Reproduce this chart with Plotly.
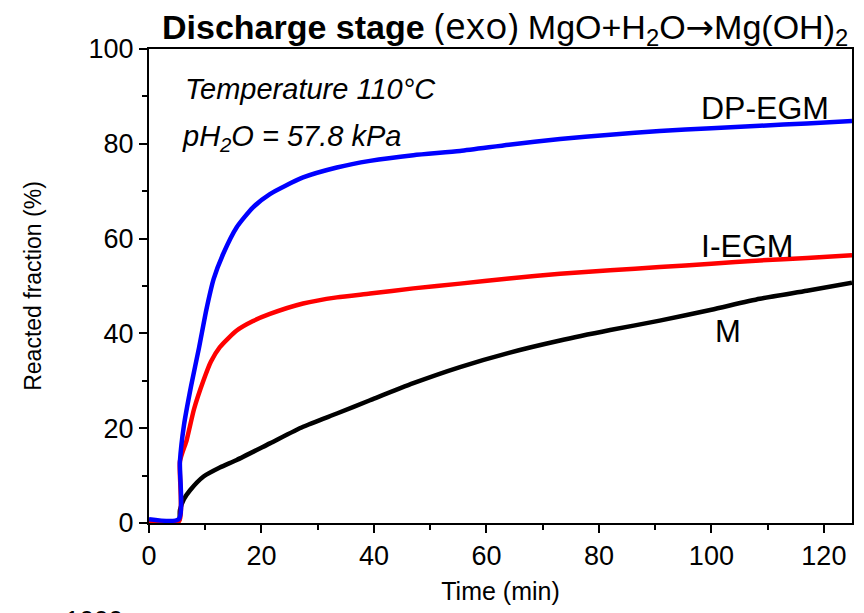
import plotly.graph_objects as go

# Time (min) and reacted fraction (%)
t_blue = [0, 5.3, 5.5, 6.2, 7.5, 8.9, 10.2, 11.5, 13.2, 15.6, 18.5, 21.5, 27.4, 33.4, 39.3, 47, 55.3, 64, 73.1, 82, 90.8, 100, 108.6, 117, 125]
v_blue = [0.8, 0.8, 13, 20.5, 29, 37, 45, 51.5, 56.8, 62.4, 66.6, 69.4, 72.9, 75, 76.4, 77.6, 78.5, 79.8, 81, 81.9, 82.7, 83.3, 83.8, 84.3, 84.8]

t_red = [0, 5.3, 5.5, 6.7, 8, 9.7, 11, 12.6, 15.6, 18.5, 21.5, 27.4, 33.4, 39.3, 47, 55.3, 64, 73.1, 82, 90.8, 100, 108.6, 117, 125]
v_red = [0.3, 0.3, 13, 17.5, 24, 30.1, 34, 37.1, 40.6, 42.6, 44.1, 46.3, 47.6, 48.4, 49.5, 50.5, 51.6, 52.6, 53.3, 54, 54.7, 55.4, 55.9, 56.5]

t_black = [0, 5.3, 5.5, 6.2, 7.3, 9.7, 12.6, 15.6, 21.5, 27.4, 33.4, 39.3, 47, 55.3, 64, 73.1, 82, 90.8, 100, 108.6, 117, 125]
v_black = [0.5, 0.5, 2.7, 5, 6.9, 9.8, 11.7, 13.3, 16.8, 20.3, 23.1, 25.9, 29.5, 32.9, 35.9, 38.5, 40.7, 42.7, 45, 47.3, 49, 50.7]

series_names = ["M", "I-EGM", "DP-EGM"]
x_ticks = [0, 20, 40, 60, 80, 100, 120]
y_ticks = [0, 20, 40, 60, 80, 100]

FONT = "Liberation Sans, Arial, sans-serif"

fig = go.Figure()
for name, t, v, col in [("M", t_black, v_black, "black"),
                        ("I-EGM", t_red, v_red, "#ff0000"),
                        ("DP-EGM", t_blue, v_blue, "#0000ff")]:
    fig.add_trace(go.Scatter(x=t, y=v, mode="lines", name=name,
                             line=dict(color=col, width=4.5, shape="spline", smoothing=0.6),
                             showlegend=False))

axis_common = dict(showline=True, linecolor="black", linewidth=2, mirror=True,
                   ticks="outside", ticklen=8, tickwidth=2, tickcolor="black",
                   showgrid=False, zeroline=False, automargin=False,
                   tickfont=dict(family=FONT, size=27, color="black"),
                   minor=dict(ticks="outside", ticklen=5, tickwidth=2, tickcolor="black", dtick=10, showgrid=False))

fig.update_xaxes(range=[0, 125], tickvals=x_ticks, ticktext=[str(v) for v in x_ticks],
                 title=dict(text="Time (min)", font=dict(family=FONT, size=25, color="black"), standoff=12),
                 **axis_common)
fig.update_yaxes(range=[0, 100], tickvals=y_ticks, ticktext=[str(v) for v in y_ticks],
                 title=dict(text="Reacted fraction (%)", font=dict(family=FONT, size=23, color="black"), standoff=40),
                 **axis_common)

annotations = [
    dict(x=109.5, y=87.6, text="DP-EGM", font=dict(size=32)),
    dict(x=106.3, y=58.4, text="I-EGM", font=dict(size=32)),
    dict(x=102.9, y=40.3, text="M", font=dict(size=31)),
    dict(x=6.0, y=91.6, text="<i>Temperature 110°C</i>", xanchor="left", font=dict(size=29)),
    dict(x=5.5, y=81.3, text="<i>pH<sub>2</sub>O = 57.8 kPa</i>", xanchor="left", font=dict(size=29)),
]
for a in annotations:
    a.setdefault("xanchor", "center")
    a["font"] = dict(family=FONT, color="black", **a["font"])
    fig.add_annotation(xref="x", yref="y", showarrow=False, yanchor="middle", **a)

fig.add_annotation(xref="paper", yref="paper", x=0.506, y=1.05, xanchor="center", yanchor="middle",
                   showarrow=False,
                   text="<b>Discharge stage</b> <span style='font-family:Open Sans, sans-serif;font-size:37px'>(exo)</span> "
                        "MgO+H<sub>2</sub>O<span style='font-family:DejaVu Sans, sans-serif'>→</span>Mg(OH)<sub>2</sub>",
                   font=dict(family=FONT, size=34, color="black"))
fig.add_annotation(xref="paper", yref="paper", x=-0.078, y=-0.168, xanchor="center", yanchor="top",
                   showarrow=False, text="1000", font=dict(family=FONT, size=26, color="black"))

fig.update_layout(width=864, height=613, margin=dict(l=149, r=12, t=49, b=90),
                  paper_bgcolor="white", plot_bgcolor="white")

fig.write_html("out.html")
